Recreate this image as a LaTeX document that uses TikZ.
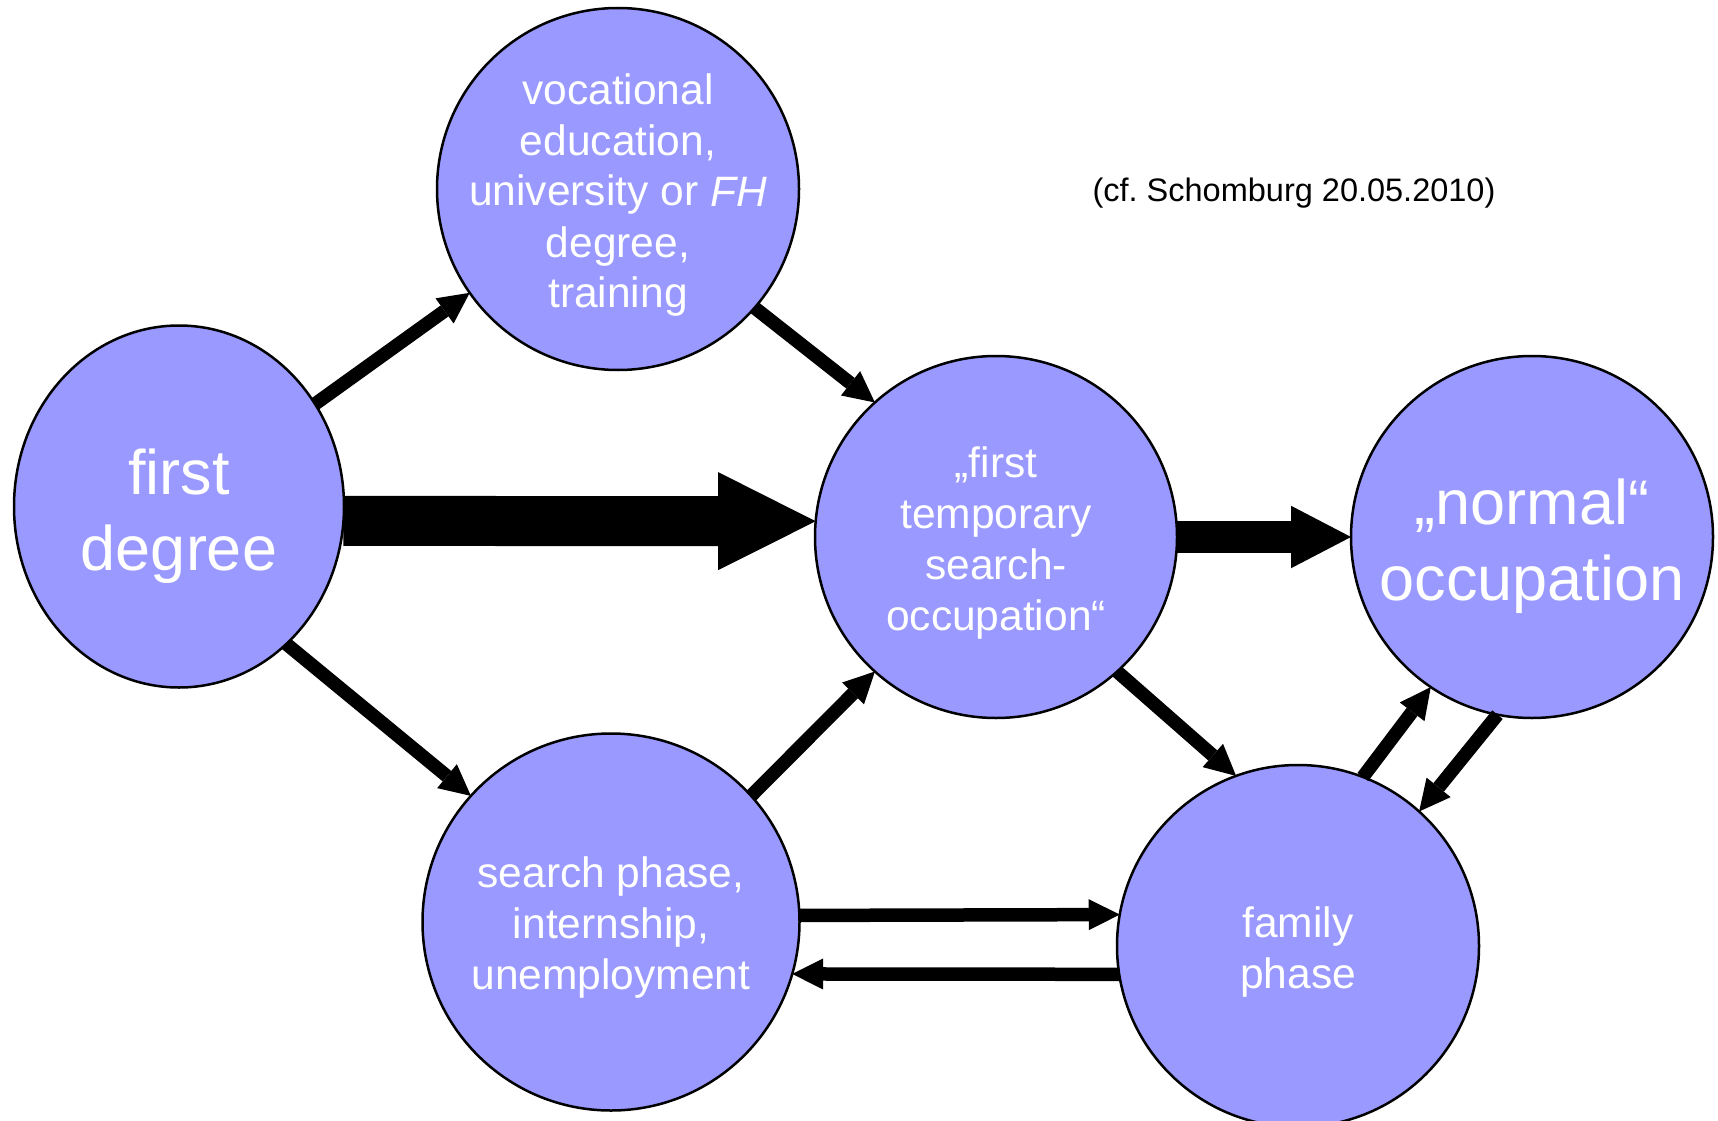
\documentclass[tikz,border=0pt]{standalone}
\usepackage{fontspec}
\setmainfont{Liberation Sans}
\usepackage{tikz}
\usetikzlibrary{arrows.meta,shapes.geometric}
\definecolor{bubblefill}{RGB}{153,153,255}
\newcommand{\bubbletext}[2]{\raisebox{#1}[0pt][0pt]{\begin{tabular}[t]{@{}c@{}}#2\end{tabular}}}

\begin{document}
\begin{tikzpicture}[x=1pt,y=-1pt,
		bubble/.style={circle,draw,line width=2.5pt,fill=bubblefill,text=white,
			inner sep=0pt,outer sep=0pt,minimum size=362pt,font=\fontsize{42.5}{51}\selectfont},
		bigtext/.style={font=\fontsize{63}{76}\selectfont},
		flowarrow/.style={line width=13.5pt,-{Triangle[length=31pt,width=31pt,line width=0pt]}},
		midflow/.style={line width=32pt,-{Triangle[length=60pt,width=62.5pt,line width=0pt]}},
		bigflow/.style={line width=50pt,-{Triangle[length=97.5pt,width=98pt,line width=0pt]}}]
		\useasboundingbox (0,0) rectangle (1718,1121);
		
		\node[bubble,bigtext,ellipse,minimum width=330pt,minimum height=362pt] (fd) at (179,506.5) {\bubbletext{12.5pt}{first\\degree}};
		\node[bubble] (voc) at (618,189) {\bubbletext{85pt}{vocational\\education,\\university or \textit{FH}\\degree,\\training}};
		\node[bubble] (ft) at (996,537) {\bubbletext{60pt}{„first\\temporary\\search-\\occupation“}};
		\node[bubble,bigtext] (no) at (1532,537) {\bubbletext{13pt}{„normal“\\occupation}};
		\node[bubble,minimum size=377pt] (sp) at (611,922) {\bubbletext{35pt}{search phase,\\internship,\\unemployment}};
		\node[bubble] (fp) at (1298,946) {\bubbletext{9pt}{family\\phase}};
		\node[anchor=base,font=\fontsize{32.5}{39}\selectfont] (cite) at (1294,201) {(cf.\ Schomburg 20.05.2010)};
		
		\draw[bigflow] (fd.-5) -- (ft.175);
		\draw[midflow] (ft.east) -- (no.west);
		\draw[flowarrow] (fd.37) -- (voc.215);
		\draw[flowarrow] (voc.-41) -- (ft.132);
		\draw[flowarrow] (fd.-52) -- (sp.138);
		\draw[flowarrow] (sp.42) -- (ft.228);
		\draw[flowarrow] (ft.-48) -- (fp.110);
		\draw[flowarrow] (fp.69) -- (no.236);
		\draw[flowarrow] (no.-101) -- (fp.48);
		\draw[flowarrow] (sp.2) -- (fp.170);
		\draw[flowarrow] (fp.189) -- (sp.-16);
\end{tikzpicture}
\end{document}
